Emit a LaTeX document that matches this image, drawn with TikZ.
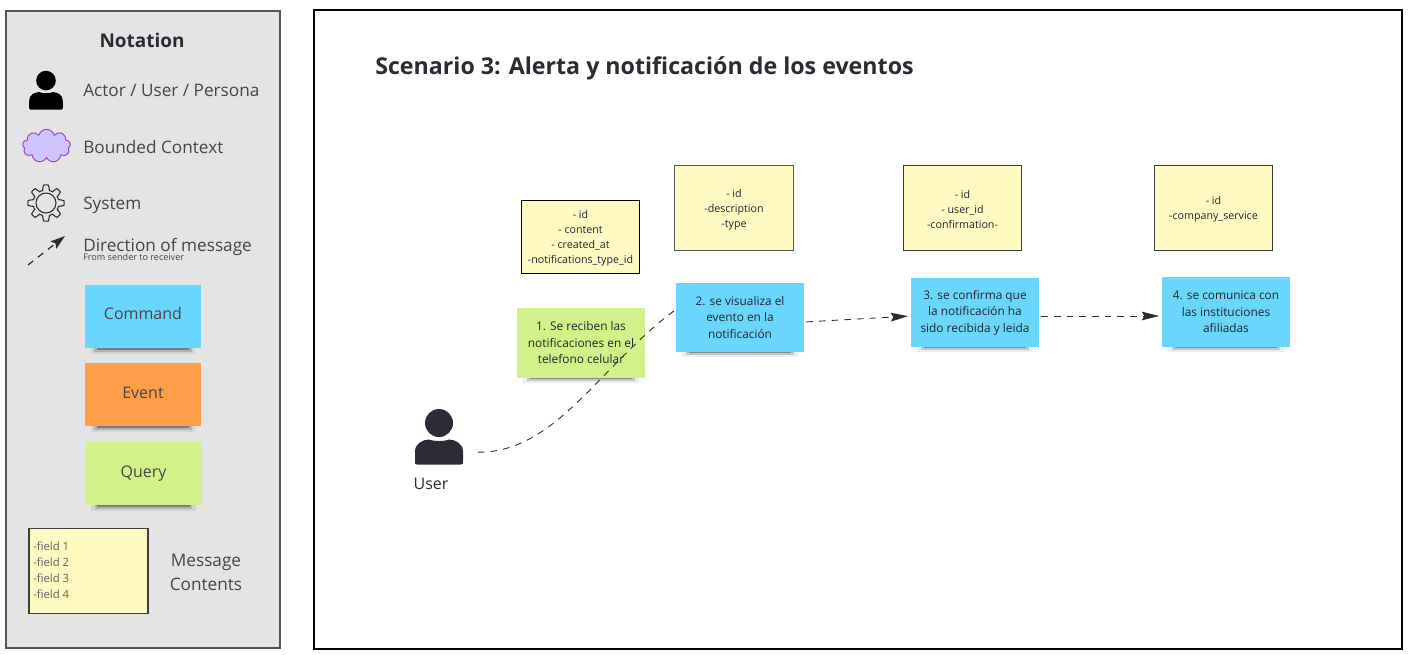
\documentclass[tikz,border=0pt]{standalone}
\usepackage{fontspec}
\setmainfont{Open Sans}
\usetikzlibrary{arrows.meta,positioning,calc,shadows,shapes.symbols}
\definecolor{Ink}{HTML}{1F2430}
\definecolor{Icon}{HTML}{2B2C33}
\definecolor{Panel}{HTML}{E4E4E4}
\definecolor{Edge}{HTML}{555555}
\definecolor{Legend}{HTML}{454545}
\definecolor{Sky}{HTML}{6BD6FB}
\definecolor{Amber}{HTML}{FF9D48}
\definecolor{Lime}{HTML}{D0F288}
\definecolor{Cream}{HTML}{FFFAC2}
\definecolor{Lilac}{HTML}{CFC4FF}
\definecolor{Plum}{HTML}{A23CC0}
\tikzset{
  >=Stealth,
  panel/.style={draw=Edge,line width=1.4pt,fill=Panel,inner sep=0pt,minimum width=205.5pt,minimum height=477.75pt},
  frame/.style={draw=black,line width=1.3pt,fill=white,inner sep=0pt,minimum width=816pt,minimum height=479.25pt},
  sticky/.style={inner sep=0pt,minimum width=96pt,minimum height=52pt,align=center,text=Ink,
    font=\fontsize{8.9}{12.4}\selectfont,
    general shadow={fill=black,opacity=.07,shadow scale=.9,shadow yshift=-7.2pt},
    general shadow={fill=black,opacity=.16,shadow scale=.84,shadow yshift=-7.6pt},
    general shadow={fill=black,opacity=.3,shadow scale=.8,shadow yshift=-7.6pt}},
  cmd/.style={sticky,fill=Sky},
  evt/.style={sticky,fill=Amber},
  qry/.style={sticky,fill=Lime},
  keycmd/.style={minimum width=87pt,minimum height=47.5pt,font=\fontsize{12}{15}\selectfont,text=Legend},
  msg/.style={draw=black,line width=.7pt,fill=Cream,inner sep=0pt,minimum width=89pt,minimum height=63.75pt,
    align=center,text=Ink,font=\fontsize{8}{11.2}\selectfont},
  lab/.style={anchor=west,inner sep=0pt,text=Legend,font=\fontsize{12.9}{18}\selectfont},
  flow/.style={->,dashed,dash pattern=on 5pt off 4.5pt,line width=.65pt,draw=Icon,
    >={Stealth[length=13pt,width=6.5pt,inset=2pt]}},
  gear/.style={draw=Icon,line width=.8pt},
  actorbox/.style={inner sep=0pt,minimum width=36pt,minimum height=18pt}
}
\newcommand{\msgtop}{\rule{0pt}{9pt}}
\newcommand{\actoricon}[4]{%
  \begin{scope}[shift={(#1,#2)},scale=#3]
    \fill[#4] (0,-13.5) circle (14);
    \fill[#4] (-22,28) .. controls (-24,28) and (-24,27) .. (-24,25) -- (-24,15)
      .. controls (-24,7) and (-16,3) .. (-10,3) .. controls (-5,5) and (5,5) .. (10,3)
      .. controls (16,3) and (24,7) .. (24,15) -- (24,25)
      .. controls (24,27) and (24,28) .. (22,28) -- cycle;
  \end{scope}}
\begin{document}
\begin{tikzpicture}[x=.75pt,y=-.75pt]
    \useasboundingbox (0,0) rectangle (1409,654);
    \node[panel] (legend) at (143,329.5) {};
    \node[frame] (board) at (858,329.5) {};
    \node[inner sep=0pt,font=\fontsize{14.2}{18}\selectfont\bfseries,text=Icon] (notation) at (142,40) {Notation};
    \actoricon{46}{90}{.7}{black}
    \node[lab] (actorlab) at (83,90) {Actor / User / Persona};
    \node[cloud,cloud puffs=9,aspect=1.5,draw=Plum,line width=.7pt,fill=Lilac,inner sep=0pt,minimum width=36pt,minimum height=25pt] (ctx) at (46.5,146) {};
    \node[lab] (ctxlab) at (83,147) {Bounded Context};
    \begin{scope}[shift={(46,203)}]
      \draw[gear] plot[domain=0:360,samples=193] (\x:{15.5+2.6*max(-1,min(1,2*cos(8*\x)))}) -- cycle;
      \draw[gear] (0,0) circle (10);
    \end{scope}
    \node[lab] (syslab) at (83,205) {System};
    \coordinate (dirfrom) at (28,265); \coordinate (dirto) at (65,236);
    \draw[flow,line width=.9pt,>={Stealth[length=11pt,width=7pt,inset=2pt]}] (dirfrom)--(dirto);
    \node[lab] (dirlab) at (83,247) {Direction of message};
    \node[lab,font=\fontsize{6.8}{8}\selectfont] (dirsub) at (83,257) {From sender to receiver};
    \node[cmd,keycmd,text depth=4pt] (keycommand) at (143,316.5) {Command};
    \node[evt,keycmd,text depth=3pt] (keyevent) at (143,394.5) {Event};
    \node[qry,keycmd] (keyquery) at (143.5,473.5) {Query};
    \node[msg,draw=Edge!70!black,line width=1.1pt] (keymsg) at (88.5,571) {};
    \node[anchor=west,align=left,inner sep=0pt,text=Legend!85,font=\fontsize{8.5}{12}\selectfont] (keyfields) at (33,570) {-field 1\\-field 2\\-field 3\\-field 4};
    \node[align=center,inner sep=0pt,text=Legend,font=\fontsize{12.9}{18}\selectfont] (keylab) at (206,572) {Message\\Contents};

    \node[anchor=west,inner sep=0pt,font=\fontsize{17.4}{22}\selectfont\bfseries,text=Icon] (title) at (375,68) {Scenario 3: Alerta y notificación de los eventos};
    \node[msg,minimum height=54.75pt] (msgone) at (580.5,236.5) {\msgtop- id\\- content\\- created\_at\\-notifications\_type\_id};
    \node[msg,draw=Edge] (msgtwo) at (734,207.5) {\msgtop- id\\-description\\-type};
    \node[msg,draw=Edge!70!black] (msgthree) at (962.5,207.5) {\msgtop- id\\- user\_id\\-confirmation-};
    \node[msg,draw=Edge!70!black] (msgfour) at (1213.5,207.5) {\msgtop- id\\-company\_service};
    \node[qry] (stepone) at (581,343) {1. Se reciben las\\notificaciones en el\\telefono celular};
    \node[cmd] (steptwo) at (740,317.5) {2. se visualiza el\\evento en la\\notificación};
    \node[cmd] (stepthree) at (975,312.5) {3. se confirma que\\la notificación ha\\sido recibida y leida};
    \node[cmd] (stepfour) at (1226,312) {4. se comunica con\\las instituciones\\afiliadas};
    \actoricon{439}{436.5}{1}{Icon}
    \node[actorbox] (usericon) at (439,452) {};
    \node[inner sep=0pt,text=Icon,font=\fontsize{12}{14}\selectfont,below=10pt of usericon,xshift=-6pt] (userlab) {User};
    \draw[flow,-,shorten <=11pt] (usericon.east) .. controls (556,453) and (600,365) .. (steptwo.173);
    \draw[flow,shorten <=1.5pt,shorten >=2pt] (steptwo.east |- 0,322) -- (stepthree.west |- 0,316);
    \draw[flow,shorten <=1.5pt,shorten >=2pt] (stepthree.east) ++(0,3.5) -- (stepfour.west |- 0,316);
\end{tikzpicture}
\end{document}
